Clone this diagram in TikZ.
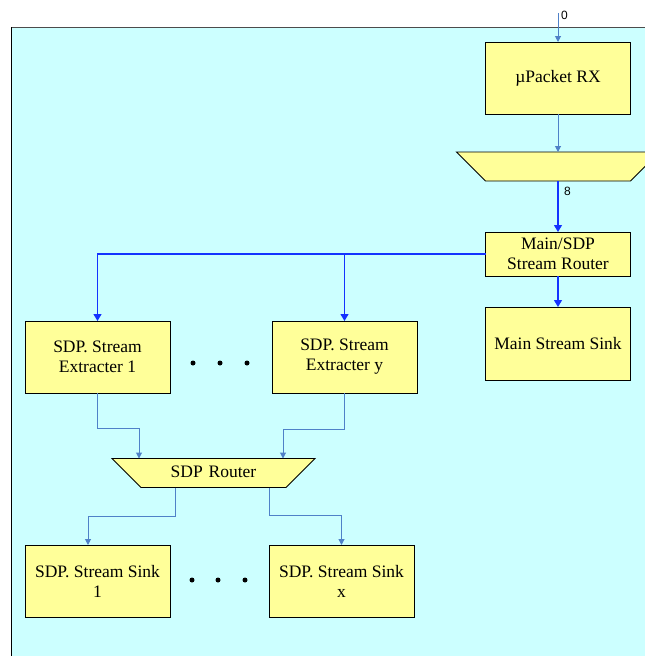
\documentclass[tikz,border=0pt]{standalone}
\usepackage{fontspec}
\setmainfont{Liberation Serif}
\newfontfamily\labelsans{Liberation Sans}
\usetikzlibrary{arrows.meta,shapes.geometric}
\definecolor{panelcyan}{HTML}{CCFFFF}
\definecolor{boxyellow}{HTML}{FFFF99}
\definecolor{linkblue}{HTML}{4F81C8}
\definecolor{busblue}{HTML}{1432FF}
\begin{document}
\begin{tikzpicture}[x=1pt,y=-1pt,
  blockbox/.style={draw=black,fill=boxyellow,line width=0.9pt,minimum width=145pt,inner sep=0pt,outer sep=0pt,align=center,font=\fontsize{17.5}{20}\selectfont},
  muxbox/.style={trapezium,trapezium angle=45,shape border rotate=180,draw=black,fill=boxyellow,line width=0.9pt,text width=145pt,text height=18.5pt,text depth=10.5pt,inner sep=0pt,outer sep=0pt,align=center,font=\fontsize{17.5}{20}\selectfont},
  thinlink/.style={draw=linkblue,line width=1pt,-{Triangle[length=6pt,width=6pt]}},
  buslink/.style={draw=busblue,line width=1.1pt,-{Triangle[length=7pt,width=8pt]}},
  buslabel/.style={font=\labelsans\fontsize{12}{14}\selectfont,anchor=west,inner sep=0pt}]
\useasboundingbox (0,0) rectangle (645,656);
\fill[panelcyan] (11,27) rectangle (645,656);
\draw[black!70,line width=1pt] (11,27) -- (645,27);
\draw[black,line width=1pt] (11,27) -- (11,656);
\coordinate (src) at (558,13);
\node[buslabel] (inlabel) at (561,15) {0};
\node[blockbox,minimum height=72pt] (rx) at (558,78) {µPacket RX};
\node[muxbox] (mux) at (558,166.5) {};
\node[blockbox,minimum height=44pt] (msr) at (558,254) {Main/SDP\\Stream Router};
\node[blockbox,minimum height=73pt] (mss) at (558,343.5) {Main Stream Sink};
\node[blockbox,minimum height=72pt] (ext1) at (97.5,357) {SDP. Stream\\Extracter 1};
\node[blockbox,minimum height=72pt] (exty) at (344.5,357) {SDP. Stream\\Extracter y};
\node[muxbox] (router) at (213.5,473) {SDP Router};
\node[blockbox,minimum height=72pt] (sink1) at (97.5,581) {SDP. Stream Sink\\1};
\node[blockbox,minimum height=72pt] (sinkx) at (341.5,581) {SDP. Stream Sink\\x};
\fill (193,363) circle (2.5pt);
\fill (220,363) circle (2.5pt);
\fill (247,363) circle (2.5pt);
\fill (192,580) circle (2.5pt);
\fill (218,580) circle (2.5pt);
\fill (245,580) circle (2.5pt);
\draw[thinlink] (src) -- (rx.north);
\draw[thinlink] (rx.south) -- (mux.north);
\draw[buslink] (mux.south) -- (msr.north);
\node[buslabel] (buswidth) at (564,191) {8};
\draw[buslink] (msr.south) -- (mss.north);
\draw[buslink] (msr.west) -| (ext1.north);
\draw[buslink] (msr.west) -| (exty.north);
\draw[thinlink] (ext1.south) -- ++(0,35) -| ([xshift=-74.5pt]router.north);
\draw[thinlink] (exty.south) -- ++(0,36) -| ([xshift=69.5pt]router.north);
\draw[thinlink] ([xshift=-38.5pt]router.south) -- ++(0,29) -| ([xshift=-9.5pt]sink1.north);
\draw[thinlink] ([xshift=55.5pt]router.south) -- ++(0,28) -| (sinkx.north);
\end{tikzpicture}
\end{document}
